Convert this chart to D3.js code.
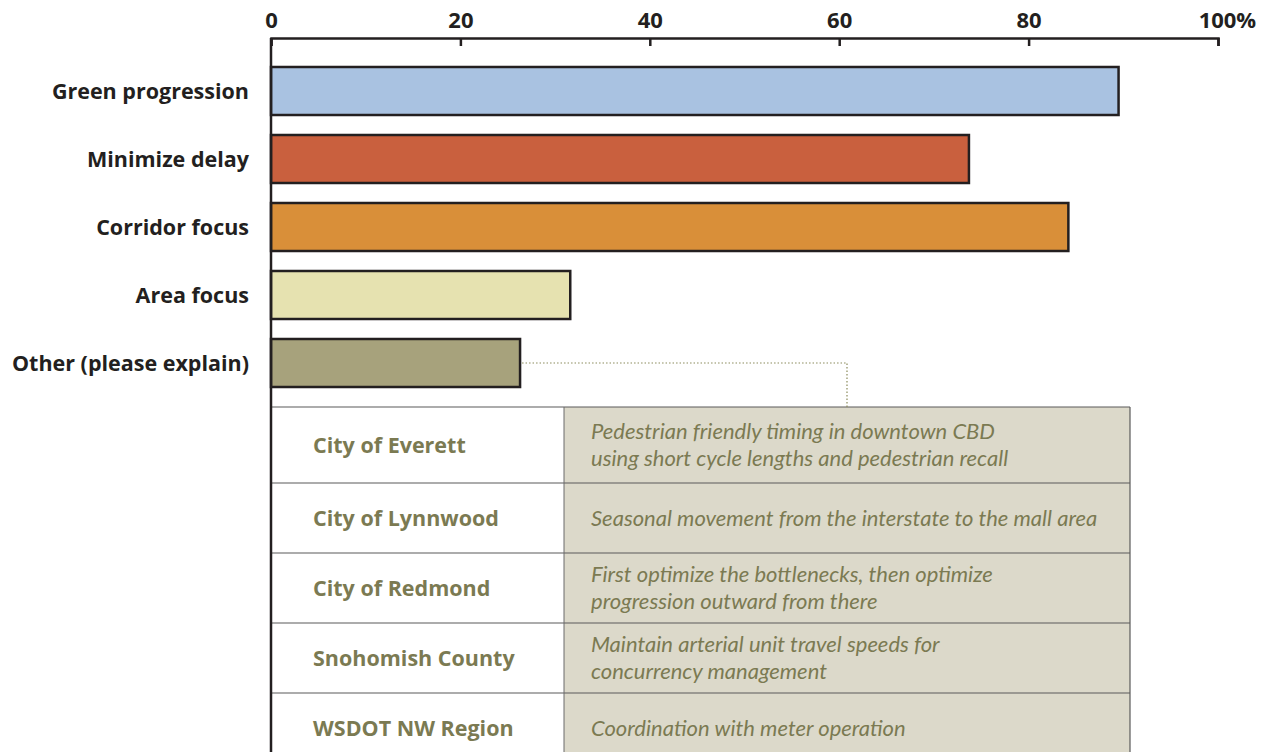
<!DOCTYPE html>
<html lang="en">
<head>
<meta charset="UTF-8">
<title>Signal timing objectives</title>
<script src="https://d3js.org/d3.v7.min.js"></script>
<style>
  body { margin: 0; background: #fff; }
  svg { display: block; font-family: "Open Sans", "Noto Sans", sans-serif; }
  .cat-label { font-size: 21.5px; font-weight: 700; fill: #231f20; }
  .axis text { font-size: 22px; font-weight: 700; fill: #231f20; font-family: "Open Sans", sans-serif; }
  .agency { font-size: 21.5px; font-weight: 700; fill: #7b7a52; }
  .note { font-family: Lato, "Open Sans", sans-serif; font-size: 22px; font-style: italic; fill: #7b7a52; }
</style>
</head>
<body>
<svg id="chart" width="1267" height="752"></svg>
<script>
// survey share of agencies choosing each objective (%)
const categories = ["Green progression", "Minimize delay", "Corridor focus", "Area focus", "Other (please explain)"];
const values = [89.5, 73.7, 84.2, 31.6, 26.3];
const colors = ["#a9c2e1", "#c9603e", "#d98f39", "#e6e2b0", "#a7a27c"];
const tickValues = [0, 20, 40, 60, 80, 100];

// responses listed under "Other"
const agencies = ["City of Everett", "City of Lynnwood", "City of Redmond", "Snohomish County", "WSDOT NW Region"];
const notes = [
  ["Pedestrian friendly timing in downtown CBD", "using short cycle lengths and pedestrian recall"],
  ["Seasonal movement from the interstate to the mall area"],
  ["First optimize the bottlenecks, then optimize", "progression outward from there"],
  ["Maintain arterial unit travel speeds for", "concurrency management"],
  ["Coordination with meter operation"]
];

const svg = d3.select("#chart");
const left = 271, right = 1218, axisY = 38;

const x = d3.scaleLinear().domain([0, 100]).range([left, right]);
const y = d3.scaleBand().domain(categories).range([57, 397]).paddingInner(0.294).paddingOuter(0.147);

// x axis on top, ticks pointing down
const axis = svg.append("g")
  .attr("class", "axis")
  .attr("transform", `translate(0,${axisY})`)
  .call(d3.axisTop(x).tickValues(tickValues).tickSize(-8).tickSizeOuter(-8).tickPadding(10)
    .tickFormat(d => d === 100 ? "100%" : d));
axis.select(".domain").attr("stroke", "#231f20").attr("stroke-width", 2.5);
axis.selectAll(".tick line").attr("stroke", "#231f20").attr("stroke-width", 2.5);
axis.selectAll(".tick text").attr("dy", 0).attr("y", -10);
// keep "100" centred on its tick, the % hangs to the right
axis.selectAll(".tick text").filter(d => d === 100).each(function () {
  const t = d3.select(this);
  t.text("100");
  const w = this.getComputedTextLength();
  t.attr("text-anchor", "start").attr("x", -w / 2 - 1).text("100%");
});

// table below the bars
const tableTop = 407, tableRight = 1130, colSplit = 564;
const rowTops = [tableTop];
agencies.forEach((a, i) => rowTops.push(rowTops[i] + (i === 0 ? 76 : 70)));

const table = svg.append("g");
table.selectAll("rect.note-bg")
  .data(agencies)
  .join("rect")
  .attr("x", colSplit)
  .attr("y", (d, i) => rowTops[i])
  .attr("width", tableRight - colSplit)
  .attr("height", (d, i) => rowTops[i + 1] - rowTops[i])
  .attr("fill", "#dcd9ca");

table.selectAll("line.row")
  .data(rowTops.slice(0, agencies.length))
  .join("line")
  .attr("x1", left).attr("x2", tableRight)
  .attr("y1", d => d).attr("y2", d => d)
  .attr("stroke", "#5a5a5a").attr("stroke-width", 1.2);

table.append("line")
  .attr("x1", colSplit).attr("x2", colSplit)
  .attr("y1", tableTop).attr("y2", 752)
  .attr("stroke", "#6a6a6a").attr("stroke-width", 1);
table.append("line")
  .attr("x1", tableRight).attr("x2", tableRight)
  .attr("y1", tableTop).attr("y2", 752)
  .attr("stroke", "#5a5a5a").attr("stroke-width", 1.2);

table.selectAll("text.agency")
  .data(agencies)
  .join("text")
  .attr("class", "agency")
  .attr("x", 313)
  .attr("y", (d, i) => (rowTops[i] + rowTops[i + 1]) / 2)
  .attr("dy", "0.35em")
  .text(d => d);

// each note line is its own text so the two lines sit snugly
const lh = 26.5;
table.selectAll("g.note")
  .data(notes)
  .join("g")
  .attr("class", "note-row")
  .each(function (lines, i) {
    const mid = (rowTops[i] + rowTops[i + 1]) / 2;
    const y0 = mid - (lines.length - 1) * lh / 2;
    d3.select(this).selectAll("text")
      .data(lines)
      .join("text")
      .attr("class", "note")
      .attr("x", 591)
      .attr("y", (d, j) => y0 + j * lh)
      .attr("dy", "0.35em")
      .text(d => d);
  });

// dotted leader from "Other" bar to the table
const other = categories[categories.length - 1];
const leadY = y(other) + y.bandwidth() / 2;
svg.append("path")
  .attr("d", `M${x(values[values.length - 1]) + 2},${leadY}H847V${tableTop}`)
  .attr("fill", "none")
  .attr("stroke", "#8a8a5a")
  .attr("stroke-width", 1.2)
  .attr("stroke-dasharray", "1.5,2");

// bars
svg.selectAll("rect.bar")
  .data(categories)
  .join("rect")
  .attr("class", "bar")
  .attr("x", x(0))
  .attr("y", d => y(d))
  .attr("width", (d, i) => x(values[i]) - x(0))
  .attr("height", y.bandwidth())
  .attr("fill", (d, i) => colors[i])
  .attr("stroke", "#231f20")
  .attr("stroke-width", 2.5);

svg.selectAll("text.cat-label")
  .data(categories)
  .join("text")
  .attr("class", "cat-label")
  .attr("x", 249)
  .attr("y", d => y(d) + y.bandwidth() / 2)
  .attr("dy", "0.35em")
  .attr("text-anchor", "end")
  .text(d => d);

// vertical baseline running down through the table
svg.append("line")
  .attr("x1", left).attr("x2", left)
  .attr("y1", axisY).attr("y2", 752)
  .attr("stroke", "#231f20").attr("stroke-width", 2.5);
</script>
</body>
</html>
